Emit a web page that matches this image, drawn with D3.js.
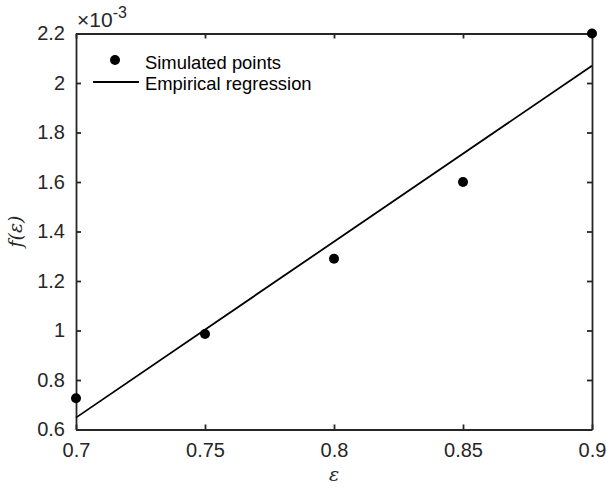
<!DOCTYPE html>
<html>
<head>
<meta charset="utf-8">
<script src="https://cdn.jsdelivr.net/npm/d3@7"></script>
<style>
  body { margin: 0; background: #fff; }
  text { font-family: "Liberation Sans", Arial, sans-serif; }
</style>
</head>
<body>
<div id="container"></div>
<script>
/* global d3*/

const width = 606;
const height = 488;
const margin = { top: 33.5, right: 14, bottom: 58.5, left: 76 };

// simulated points (f in units of 1e-3)
const epsValues = [0.7, 0.75, 0.8, 0.85, 0.9];
const fValues = [0.726, 0.986, 1.29, 1.6, 2.2];

// empirical regression line end points
const fitEps = [0.7, 0.9];
const fitF = [0.648, 2.07];

const xTicks = [0.7, 0.75, 0.8, 0.85, 0.9];
const yTicks = [0.6, 0.8, 1, 1.2, 1.4, 1.6, 1.8, 2, 2.2];

const svg = d3
  .select("#container")
  .append("svg")
  .attr("width", width)
  .attr("height", height);

const x = d3.scaleLinear([0.7, 0.9], [margin.left, width - margin.right]);
const y = d3.scaleLinear([0.6, 2.2], [height - margin.bottom, margin.top]);

const axisColor = "#262626";

// axes (ticks inside, like matlab), top/right mirrored without labels
const xAx = svg
  .append("g")
  .attr("transform", `translate(0,${height - margin.bottom})`)
  .call(d3.axisBottom(x).tickValues(xTicks).tickSizeInner(-5).tickSizeOuter(0).tickPadding(13.5).tickFormat(d3.format("")));
const xTop = svg
  .append("g")
  .attr("transform", `translate(0,${margin.top})`)
  .call(d3.axisTop(x).tickValues(xTicks).tickSizeInner(-5).tickSizeOuter(0).tickFormat(""));
const yAx = svg
  .append("g")
  .attr("transform", `translate(${margin.left},0)`)
  .call(d3.axisLeft(y).tickValues(yTicks).tickSizeInner(-5).tickSizeOuter(0).tickPadding(11).tickFormat(d3.format("")));
const yRight = svg
  .append("g")
  .attr("transform", `translate(${width - margin.right},0)`)
  .call(d3.axisRight(y).tickValues(yTicks).tickSizeInner(-5).tickSizeOuter(0).tickFormat(""));

[xAx, xTop, yAx, yRight].forEach((g) => {
  g.select(".domain").attr("stroke", axisColor).attr("stroke-width", 1.8);
  g.selectAll(".tick line").attr("stroke", axisColor).attr("stroke-width", 1.8);
  g.selectAll(".tick text")
    .style("font-size", "20px")
    .style("font-family", "'Liberation Sans', Arial, sans-serif")
    .attr("fill", axisColor);
});

// exponent label
const expo = svg
  .append("text")
  .attr("x", margin.left + 1)
  .attr("y", 27)
  .attr("fill", axisColor)
  .style("font-size", "21px");
expo.append("tspan").text("\u00d710");
expo.append("tspan").attr("dy", -9).style("font-size", "16px").text("-3");

// regression line
svg
  .append("line")
  .attr("x1", x(fitEps[0]))
  .attr("y1", y(fitF[0]))
  .attr("x2", x(fitEps[1]))
  .attr("y2", y(fitF[1]))
  .attr("stroke", "#000")
  .attr("stroke-width", 1.8);

// points
svg
  .selectAll("circle.dot")
  .data(epsValues)
  .enter()
  .append("circle")
  .attr("class", "dot")
  .attr("cx", (d) => x(d))
  .attr("cy", (d, i) => y(fValues[i]))
  .attr("r", 5)
  .attr("fill", "#000");

// legend
const legend = svg.append("g");
legend.append("circle").attr("cx", 115).attr("cy", 60).attr("r", 5).attr("fill", "#000");
legend.append("line").attr("x1", 93).attr("x2", 139).attr("y1", 82).attr("y2", 82)
  .attr("stroke", "#000").attr("stroke-width", 1.8);
legend.append("text").attr("x", 145).attr("y", 68.5).style("font-size", "18.4px").attr("fill", "#000").text("Simulated points");
legend.append("text").attr("x", 145).attr("y", 90).style("font-size", "18.4px").attr("fill", "#000").text("Empirical regression");

// axis labels
svg
  .append("text")
  .attr("x", (margin.left + width - margin.right) / 2)
  .attr("y", 481)
  .attr("text-anchor", "middle")
  .attr("fill", axisColor)
  .style("font-size", "19px")
  .style("font-style", "italic")
  .style("font-family", "'DejaVu Serif', serif")
  .text("\u03b5");

svg
  .append("text")
  .attr("transform", `translate(22,${(margin.top + height - margin.bottom) / 2}) rotate(-90)`)
  .attr("text-anchor", "middle")
  .attr("fill", axisColor)
  .style("font-size", "19px")
  .style("font-style", "italic")
  .style("font-family", "'DejaVu Serif', serif")
  .text("f(\u03b5)");
</script>
</body>
</html>
